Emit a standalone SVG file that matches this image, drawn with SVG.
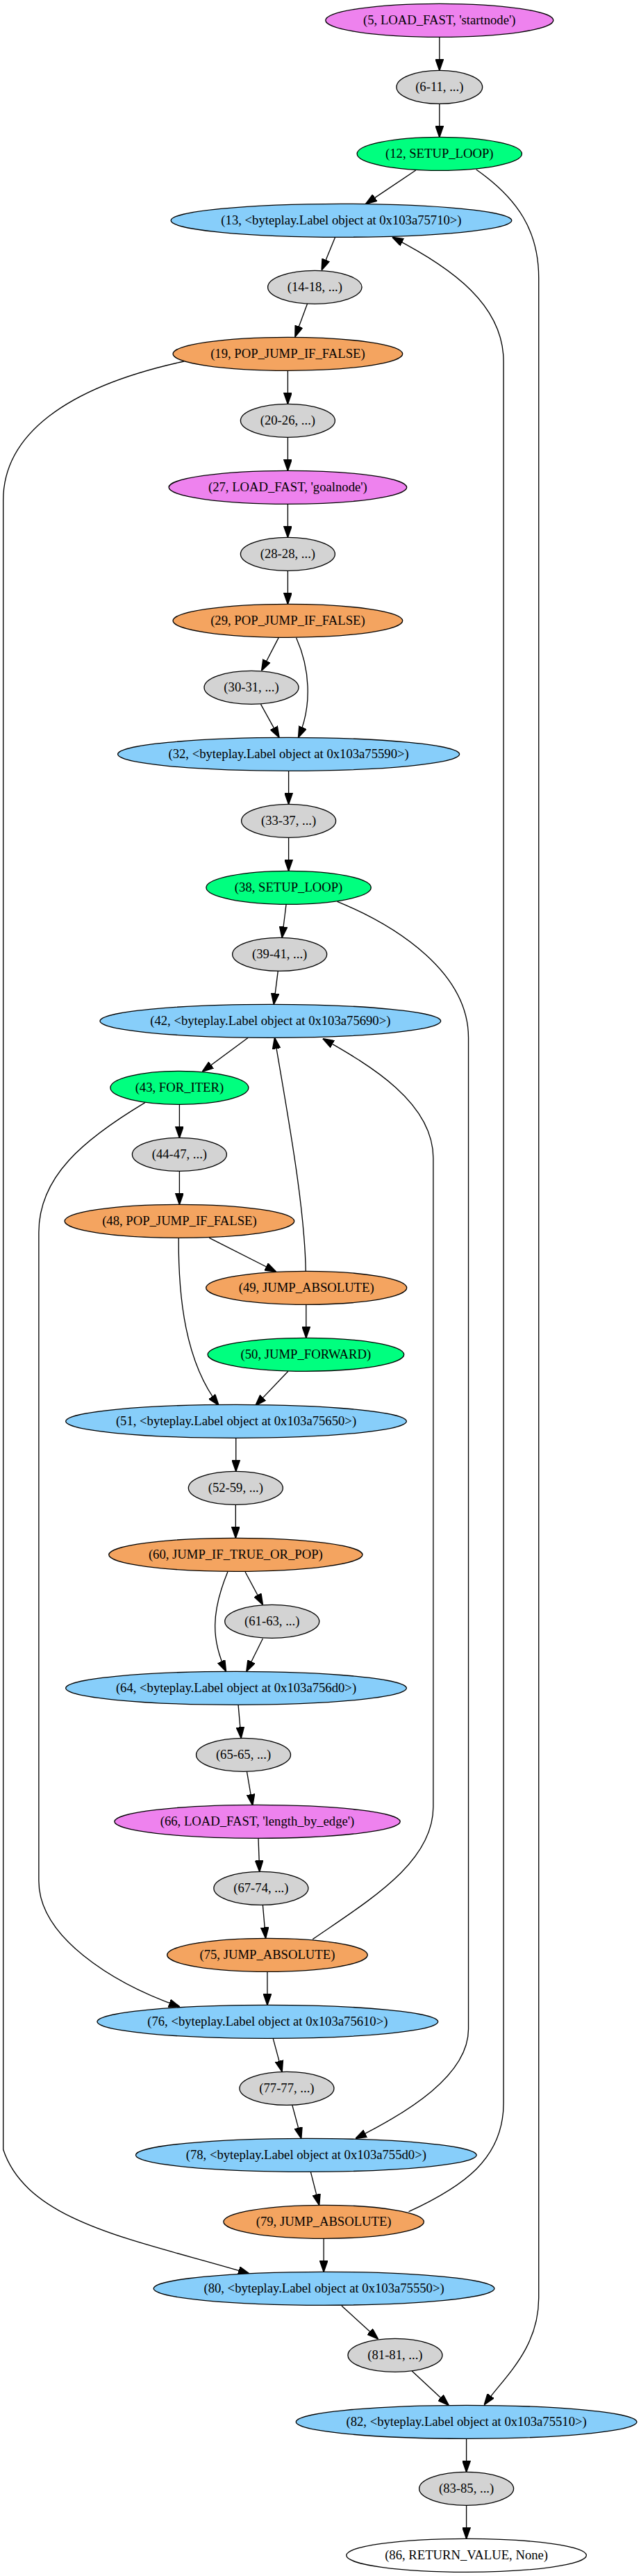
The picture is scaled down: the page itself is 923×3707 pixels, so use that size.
<svg xmlns="http://www.w3.org/2000/svg" width="923" height="3707" viewBox="0 0 923 3707">
<style>
.n ellipse{stroke:#000;stroke-width:1}
.n text{font-family:"Liberation Serif","Times New Roman",serif;font-size:14px;text-anchor:middle;fill:#000}
.e path{fill:none;stroke:#000;stroke-width:1;marker-end:url(#arr)}
.gy{fill:#d3d3d3}.vi{fill:#ee82ee}.gr{fill:#00ff7f}.bl{fill:#87cefa}.or{fill:#f4a460}.wh{fill:#fff}
</style>
<defs>
<marker id="arr" markerUnits="userSpaceOnUse" markerWidth="12" markerHeight="9" refX="10" refY="3.5" orient="auto" viewBox="0 0 10 7">
<path d="M0,0 L10,3.5 L0,7 Z" fill="#000" stroke="#000" stroke-width="1"/>
</marker>
</defs>
<rect width="923" height="3707" fill="#fff"/>
<g transform="scale(1.33333)">
<g id="edges" class="e">
<path d="M474.6,40 L474.6,76"/>
<path d="M474.6,112 L474.6,148"/>
<path d="M449,183.8 L395,220"/>
<path d="M514.3,183 C560,215 581.8,250 581.8,300 L581.8,2480 C581.8,2535 545,2565 523,2595.5"/>
<path d="M362,256 L347.4,291.5"/>
<path d="M332,327.5 L318.7,363.5"/>
<path d="M198.6,390 C70,418 3.5,470 3.5,540 L3.5,2320 C30,2400 150,2418 269.3,2454"/>
<path d="M310.8,400 L310.8,436"/>
<path d="M310.8,472 L310.8,508"/>
<path d="M310.8,544 L310.8,580"/>
<path d="M310.8,616 L310.8,652"/>
<path d="M301,688 L282.5,723.8"/>
<path d="M320,688.5 C334,720 338,760 322.2,796"/>
<path d="M281.6,760 L301.5,796"/>
<path d="M311.7,832 L311.7,868"/>
<path d="M311.7,904 L311.7,940"/>
<path d="M309,976.5 L304.6,1012"/>
<path d="M364.2,973 C430,1000 505.9,1050 505.9,1120 L505.9,2190 C505.9,2240 440,2280 384,2308"/>
<path d="M300.2,1048 L295.7,1084"/>
<path d="M268,1120 L218.5,1156.5"/>
<path d="M330.2,1372 C329,1300 310,1200 296.6,1120"/>
<path d="M337.7,2093 C400,2050 467.9,2010 467.9,1950 L467.9,1250 C467.9,1190 400,1150 348.7,1121"/>
<path d="M193.8,1192 L193.8,1228"/>
<path d="M156.7,1190 C90,1230 41.9,1270 41.9,1330 L41.9,2030 C41.9,2090 120,2140 194.2,2166"/>
<path d="M193.8,1264 L193.8,1300"/>
<path d="M226,1336 L298,1372.5"/>
<path d="M192.9,1336 C192.5,1400 200,1470 236.2,1516.7"/>
<path d="M330.6,1408 L330.6,1444"/>
<path d="M311.2,1480 L275.9,1517"/>
<path d="M254.8,1552 L254.8,1588"/>
<path d="M254.5,1624 L254.5,1660"/>
<path d="M264.8,1696.5 L283.8,1732"/>
<path d="M245.9,1696.5 C228,1740 228,1770 244.1,1804"/>
<path d="M283.8,1768.5 L266.2,1804"/>
<path d="M257.3,1840 L260.4,1876"/>
<path d="M266.6,1912 L272.8,1948.5"/>
<path d="M279,1984 L280.3,2020"/>
<path d="M283.8,2056 L286.9,2092"/>
<path d="M288.7,2128 L288.7,2164"/>
<path d="M294.9,2200 L304.6,2236"/>
<path d="M315.6,2272 L325.3,2308"/>
<path d="M335.5,2344 L344.7,2380"/>
<path d="M441.4,2387 C500,2360 543.8,2330 543.8,2270 L543.8,390 C543.8,330 490,290 423.7,256"/>
<path d="M349.6,2416 L349.6,2452"/>
<path d="M369,2488.7 L408.3,2524.5"/>
<path d="M444.9,2559 L484.6,2596"/>
<path d="M503.7,2632 L503.7,2668"/>
<path d="M503.7,2704 L503.7,2740"/>
</g>
<g id="n5" class="n"><ellipse class="vi" cx="474.6" cy="22" rx="123" ry="18"/><text x="474.6" y="26.5">(5, LOAD_FAST, 'startnode')</text></g>
<g id="n6" class="n"><ellipse class="gy" cx="474.6" cy="94" rx="46.4" ry="18"/><text x="474.6" y="98.5">(6-11, ...)</text></g>
<g id="n12" class="n"><ellipse class="gr" cx="474.6" cy="166" rx="89" ry="18"/><text x="474.6" y="170.5">(12, SETUP_LOOP)</text></g>
<g id="n13" class="n"><ellipse class="bl" cx="368.6" cy="238" rx="184" ry="18"/><text x="368.6" y="242.5">(13, &lt;byteplay.Label object at 0x103a75710&gt;)</text></g>
<g id="n14" class="n"><ellipse class="gy" cx="340" cy="310" rx="50.8" ry="18"/><text x="340" y="314.5">(14-18, ...)</text></g>
<g id="n19" class="n"><ellipse class="or" cx="310.8" cy="382" rx="124" ry="18"/><text x="310.8" y="386.5">(19, POP_JUMP_IF_FALSE)</text></g>
<g id="n20" class="n"><ellipse class="gy" cx="310.8" cy="454" rx="51" ry="18"/><text x="310.8" y="458.5">(20-26, ...)</text></g>
<g id="n27" class="n"><ellipse class="vi" cx="310.8" cy="526" rx="128.5" ry="18"/><text x="310.8" y="530.5">(27, LOAD_FAST, 'goalnode')</text></g>
<g id="n28" class="n"><ellipse class="gy" cx="310.8" cy="598" rx="51" ry="18"/><text x="310.8" y="602.5">(28-28, ...)</text></g>
<g id="n29" class="n"><ellipse class="or" cx="310.8" cy="670" rx="124" ry="18"/><text x="310.8" y="674.5">(29, POP_JUMP_IF_FALSE)</text></g>
<g id="n30" class="n"><ellipse class="gy" cx="271.5" cy="742" rx="51" ry="18"/><text x="271.5" y="746.5">(30-31, ...)</text></g>
<g id="n32" class="n"><ellipse class="bl" cx="311.7" cy="814" rx="184.5" ry="18"/><text x="311.7" y="818.5">(32, &lt;byteplay.Label object at 0x103a75590&gt;)</text></g>
<g id="n33" class="n"><ellipse class="gy" cx="311.7" cy="886" rx="51" ry="18"/><text x="311.7" y="890.5">(33-37, ...)</text></g>
<g id="n38" class="n"><ellipse class="gr" cx="311.7" cy="958" rx="89" ry="18"/><text x="311.7" y="962.5">(38, SETUP_LOOP)</text></g>
<g id="n39" class="n"><ellipse class="gy" cx="302" cy="1030" rx="51" ry="18"/><text x="302" y="1034.5">(39-41, ...)</text></g>
<g id="n42" class="n"><ellipse class="bl" cx="292" cy="1102" rx="184" ry="18"/><text x="292" y="1106.5">(42, &lt;byteplay.Label object at 0x103a75690&gt;)</text></g>
<g id="n43" class="n"><ellipse class="gr" cx="193.8" cy="1174" rx="74.6" ry="18"/><text x="193.8" y="1178.5">(43, FOR_ITER)</text></g>
<g id="n44" class="n"><ellipse class="gy" cx="193.8" cy="1246" rx="51" ry="18"/><text x="193.8" y="1250.5">(44-47, ...)</text></g>
<g id="n48" class="n"><ellipse class="or" cx="193.8" cy="1318" rx="124" ry="18"/><text x="193.8" y="1322.5">(48, POP_JUMP_IF_FALSE)</text></g>
<g id="n49" class="n"><ellipse class="or" cx="330.9" cy="1390" rx="108.4" ry="18"/><text x="330.9" y="1394.5">(49, JUMP_ABSOLUTE)</text></g>
<g id="n50" class="n"><ellipse class="gr" cx="330.3" cy="1462" rx="106" ry="18"/><text x="330.3" y="1466.5">(50, JUMP_FORWARD)</text></g>
<g id="n51" class="n"><ellipse class="bl" cx="255" cy="1534" rx="184" ry="18"/><text x="255" y="1538.5">(51, &lt;byteplay.Label object at 0x103a75650&gt;)</text></g>
<g id="n52" class="n"><ellipse class="gy" cx="254.5" cy="1606" rx="51" ry="18"/><text x="254.5" y="1610.5">(52-59, ...)</text></g>
<g id="n60" class="n"><ellipse class="or" cx="254.5" cy="1678" rx="137" ry="18"/><text x="254.5" y="1682.5">(60, JUMP_IF_TRUE_OR_POP)</text></g>
<g id="n61" class="n"><ellipse class="gy" cx="293.8" cy="1750" rx="51" ry="18"/><text x="293.8" y="1754.5">(61-63, ...)</text></g>
<g id="n64" class="n"><ellipse class="bl" cx="255" cy="1822" rx="184" ry="18"/><text x="255" y="1826.5">(64, &lt;byteplay.Label object at 0x103a756d0&gt;)</text></g>
<g id="n65" class="n"><ellipse class="gy" cx="262.9" cy="1894" rx="51" ry="18"/><text x="262.9" y="1898.5">(65-65, ...)</text></g>
<g id="n66" class="n"><ellipse class="vi" cx="277.9" cy="1966" rx="154.3" ry="18"/><text x="277.9" y="1970.5">(66, LOAD_FAST, 'length_by_edge')</text></g>
<g id="n67" class="n"><ellipse class="gy" cx="281.9" cy="2038" rx="51" ry="18"/><text x="281.9" y="2042.5">(67-74, ...)</text></g>
<g id="n75" class="n"><ellipse class="or" cx="288.7" cy="2110" rx="108.2" ry="18"/><text x="288.7" y="2114.5">(75, JUMP_ABSOLUTE)</text></g>
<g id="n76" class="n"><ellipse class="bl" cx="289" cy="2182" rx="184" ry="18"/><text x="289" y="2186.5">(76, &lt;byteplay.Label object at 0x103a75610&gt;)</text></g>
<g id="n77" class="n"><ellipse class="gy" cx="309.7" cy="2254" rx="51" ry="18"/><text x="309.7" y="2258.5">(77-77, ...)</text></g>
<g id="n78" class="n"><ellipse class="bl" cx="330.6" cy="2326" rx="184" ry="18"/><text x="330.6" y="2330.5">(78, &lt;byteplay.Label object at 0x103a755d0&gt;)</text></g>
<g id="n79" class="n"><ellipse class="or" cx="349.6" cy="2398" rx="108.2" ry="18"/><text x="349.6" y="2402.5">(79, JUMP_ABSOLUTE)</text></g>
<g id="n80" class="n"><ellipse class="bl" cx="349.9" cy="2470" rx="184" ry="18"/><text x="349.9" y="2474.5">(80, &lt;byteplay.Label object at 0x103a75550&gt;)</text></g>
<g id="n81" class="n"><ellipse class="gy" cx="426.7" cy="2542" rx="51" ry="18"/><text x="426.7" y="2546.5">(81-81, ...)</text></g>
<g id="n82" class="n"><ellipse class="bl" cx="503.7" cy="2614" rx="184" ry="18"/><text x="503.7" y="2618.5">(82, &lt;byteplay.Label object at 0x103a75510&gt;)</text></g>
<g id="n83" class="n"><ellipse class="gy" cx="503.7" cy="2686" rx="51" ry="18"/><text x="503.7" y="2690.5">(83-85, ...)</text></g>
<g id="n86" class="n"><ellipse class="wh" cx="503.7" cy="2758" rx="129.6" ry="18"/><text x="503.7" y="2762.5">(86, RETURN_VALUE, None)</text></g>
</g>
</svg>
